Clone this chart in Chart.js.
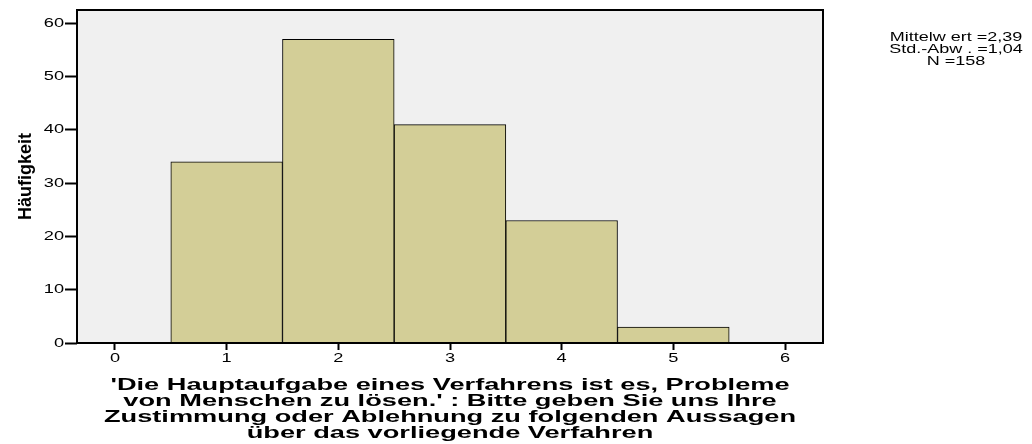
<!DOCTYPE html>
<html>
<head>
<meta charset="utf-8">
<script src="https://cdn.jsdelivr.net/npm/chart.js@4"></script>
<style>
  html, body { margin: 0; padding: 0; background: #ffffff; }
  #wrap { width: 1032px; height: 444px; }
</style>
</head>
<body>
<div id="wrap"><canvas id="chart" width="1032" height="444"></canvas></div>
<script>
// histogram data
const binCenters = [1, 2, 3, 4, 5];
const counts = [34, 57, 41, 23, 3];
const xTickValues = [0, 1, 2, 3, 4, 5, 6];
const yTickValues = [0, 10, 20, 30, 40, 50, 60];
const statLines = ['Mittelw ert =2,39', 'Std.-Abw . =1,04', 'N =158'];
const xTitleLines = [
    "'Die Hauptaufgabe eines Verfahrens ist es, Probleme",
    "von Menschen zu lösen.' : Bitte geben Sie uns Ihre",
    'Zustimmung oder Ablehnung zu folgenden Aussagen',
    'über das vorliegende Verfahren'
];
const yTitle = 'Häufigkeit';

const FONT = '"Liberation Sans", Arial, sans-serif';

/**
 * Draw text stretched horizontally like the SPSS export
 */
function wideText(ctx, text, x, y, align, stretch) {
    ctx.save();
    ctx.translate(x, y);
    ctx.scale(stretch, 1);
    ctx.textAlign = align;
    ctx.fillText(text, 0, 0);
    ctx.restore();
}

// grey plot background + black frame
const frame = {
    id: 'frame',
    beforeDraw(chart) {
        const a = chart.chartArea;
        const ctx = chart.ctx;
        ctx.save();
        ctx.fillStyle = '#f0f0f0';
        ctx.fillRect(a.left, a.top, a.right - a.left, a.bottom - a.top);
        ctx.restore();
    },
    afterDraw(chart) {
        const a = chart.chartArea;
        const ctx = chart.ctx;
        ctx.save();
        ctx.strokeStyle = '#000';
        ctx.lineWidth = 2;
        ctx.strokeRect(a.left, a.top, a.right - a.left, a.bottom - a.top);
        ctx.restore();
    }
};

// tick labels, x title and statistics box
const labels = {
    id: 'labels',
    afterDraw(chart) {
        const ctx = chart.ctx;
        const xs = chart.scales.x;
        const ys = chart.scales.y;
        ctx.save();
        ctx.fillStyle = '#000';
        ctx.textBaseline = 'middle';

        ctx.font = '13px ' + FONT;
        xs.ticks.forEach(t => {
            wideText(ctx, String(t.value), xs.getPixelForValue(t.value), 358, 'center', 1.4);
        });
        ys.ticks.forEach(t => {
            wideText(ctx, String(t.value), ys.left + 64, ys.getPixelForValue(t.value), 'right', 1.4);
        });

        ctx.font = 'bold 17px ' + FONT;
        const cx = (chart.chartArea.left + chart.chartArea.right) / 2;
        xTitleLines.forEach((t, i) => wideText(ctx, t, cx, 385 + i * 16, 'center', 1.6));

        ctx.font = '12px ' + FONT;
        statLines.forEach((t, i) => wideText(ctx, t, 956, 38 + i * 12, 'center', 1.5));
        ctx.restore();
    }
};

new Chart(document.getElementById('chart'), {
    type: 'bar',
    data: {
        datasets: [{
            data: binCenters.map((x, i) => ({ x: x, y: counts[i] })),
            backgroundColor: '#d3ce97',
            borderColor: '#000',
            borderWidth: 1,
            barPercentage: 1,
            categoryPercentage: 1
        }]
    },
    options: {
        responsive: false,
        animation: false,
        layout: { padding: { left: 0, right: 209, top: 10, bottom: 0 } },
        plugins: { legend: { display: false }, tooltip: { enabled: false } },
        scales: {
            x: {
                type: 'linear',
                offset: false,
                min: -0.34,
                max: 6.34,
                grid: { offset: false, drawOnChartArea: false, tickLength: 7, tickWidth: 2, tickColor: '#000' },
                border: { display: false },
                afterBuildTicks(scale) { scale.ticks = xTickValues.map(v => ({ value: v })); },
                ticks: { display: false },
                afterFit(scale) { scale.height = 101; }
            },
            y: {
                min: 0,
                max: 62.5,
                grid: { drawOnChartArea: false, tickLength: 12, tickWidth: 2, tickColor: '#000' },
                border: { display: false },
                afterBuildTicks(scale) { scale.ticks = yTickValues.map(v => ({ value: v })); },
                ticks: { display: false },
                title: {
                    display: true,
                    text: yTitle,
                    color: '#000',
                    font: { family: FONT, size: 18, weight: 'bold' },
                    padding: { top: 15, bottom: 0 }
                },
                afterFit(scale) { scale.width = 77; }
            }
        }
    },
    plugins: [frame, labels]
});
</script>
</body>
</html>
